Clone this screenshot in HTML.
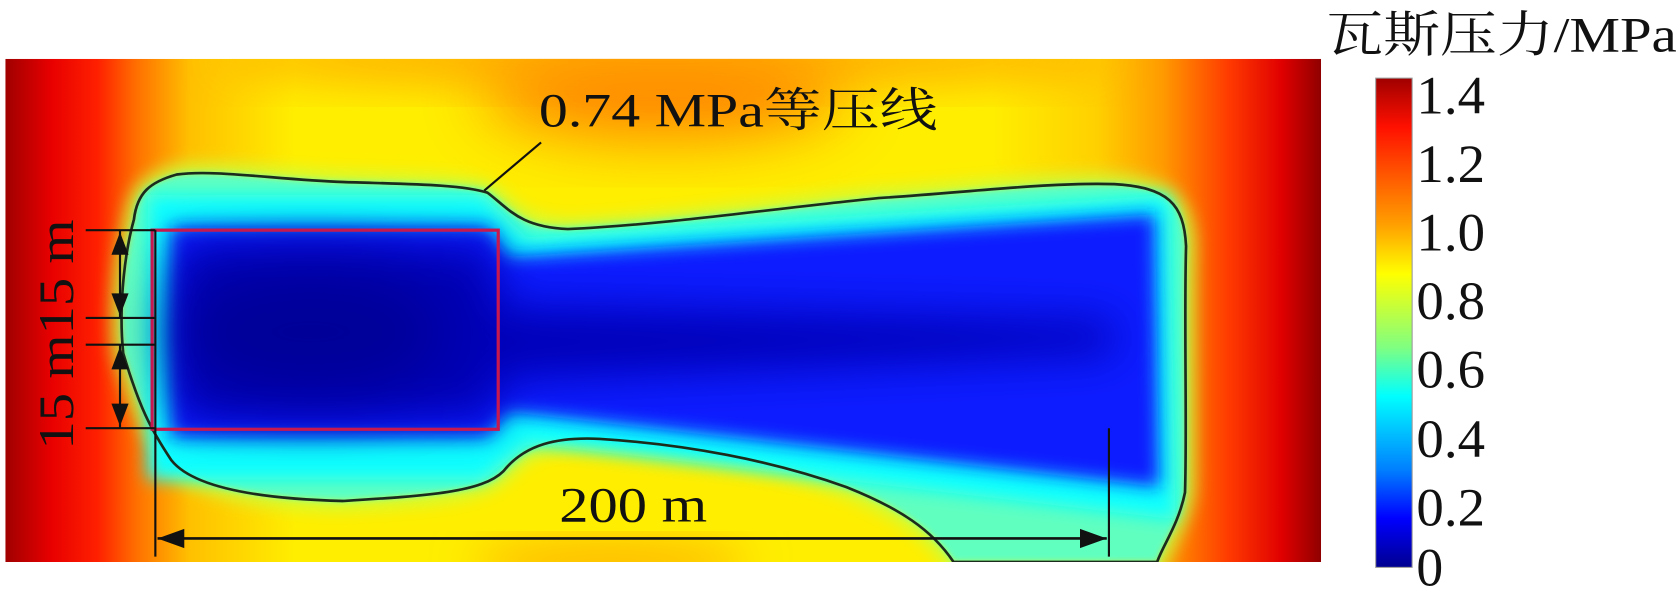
<!DOCTYPE html>
<html><head><meta charset="utf-8"><style>html,body{margin:0;padding:0;background:#fff;}svg{display:block}.t{font-family:"Liberation Serif","Times New Roman",serif}.c{font-family:"Liberation Serif","Noto Serif CJK SC",serif}</style></head>
<body>
<svg width="1680" height="592" viewBox="0 0 1568 553" preserveAspectRatio="none" xmlns="http://www.w3.org/2000/svg">
<defs>
<linearGradient id="bg" x1="0" x2="1" y1="0" y2="0">
<stop offset="0" stop-color="#a00000"/><stop offset="0.035" stop-color="#e80000"/>
<stop offset="0.07" stop-color="#ff2000"/><stop offset="0.1" stop-color="#ff7000"/>
<stop offset="0.14" stop-color="#ffc000"/><stop offset="0.22" stop-color="#ffee00"/>
<stop offset="0.75" stop-color="#ffee00"/><stop offset="0.83" stop-color="#ffd000"/>
<stop offset="0.88" stop-color="#ff9a00"/><stop offset="0.93" stop-color="#ff3a00"/>
<stop offset="0.97" stop-color="#e00000"/><stop offset="1" stop-color="#900000"/>
</linearGradient>
<linearGradient id="cb" x1="0" x2="0" y1="0" y2="1">
<stop offset="0" stop-color="#a00000"/><stop offset="0.1" stop-color="#ff1000"/>
<stop offset="0.3" stop-color="#ffa000"/><stop offset="0.4" stop-color="#ffff00"/>
<stop offset="0.55" stop-color="#80ff80"/><stop offset="0.65" stop-color="#00ffff"/>
<stop offset="0.8" stop-color="#0080ff"/><stop offset="0.9" stop-color="#0000ff"/>
<stop offset="1" stop-color="#000090"/>
</linearGradient>
<filter id="b3" x="-20%" y="-20%" width="140%" height="140%"><feGaussianBlur stdDeviation="3"/></filter>
<filter id="b8" x="-20%" y="-20%" width="140%" height="140%"><feGaussianBlur stdDeviation="8"/></filter>
<filter id="b20" x="-30%" y="-30%" width="160%" height="160%"><feGaussianBlur stdDeviation="20"/></filter>
<filter id="b30" x="-50%" y="-50%" width="200%" height="200%"><feGaussianBlur stdDeviation="30"/></filter>
<clipPath id="pc"><rect x="5" y="55" width="1228" height="470"/></clipPath>
<path id="ct" d="M125,205 C128,180 140,170 165,163 C200,158 260,168 320,170 C380,172 430,172 455,180 C475,195 485,212 530,214 C620,210 720,195 820,185 C900,180 980,170 1040,172 C1090,175 1105,190 1107,230 C1105,300 1108,400 1106,460 C1100,490 1085,510 1080,525 L890,525 C870,495 840,475 790,455 C720,430 640,415 560,410 C520,408 490,415 470,440 C450,460 400,463 320,468 C240,466 180,455 160,430 C140,400 130,380 115,330 C110,280 118,230 125,205 Z"/>
</defs>
<g clip-path="url(#pc)">
<rect x="5" y="55" width="1228" height="470" fill="url(#bg)"/>
<ellipse cx="620" cy="85" rx="170" ry="45" fill="#ff7000" opacity="0.85" filter="url(#b30)"/>
<ellipse cx="620" cy="55" rx="420" ry="28" fill="#ff9a00" opacity="0.7" filter="url(#b20)"/>
<ellipse cx="570" cy="525" rx="130" ry="18" fill="#ffb000" filter="url(#b20)"/>
<use href="#ct" fill="none" stroke="#c8ff40" stroke-width="16" filter="url(#b8)"/>
<use href="#ct" fill="#60ffc0" filter="url(#b3)"/>
<path d="M138,182 L450,182 L492,222 L1092,182 L1097,485 L492,414 L450,448 L138,448 Z" fill="#10ffff" filter="url(#b8)"/>
<path d="M160,212 L455,212 L475,240 L1078,200 L1082,455 L475,385 L455,408 L160,408 Z" fill="#0a1cff" filter="url(#b8)"/>
<path d="M165,228 L460,228 L470,285 L1040,300 L1040,330 L470,355 L460,392 L165,392 Z" fill="#0000b8" filter="url(#b20)"/>
<ellipse cx="290" cy="310" rx="130" ry="60" fill="#000098" filter="url(#b30)"/>
<use href="#ct" fill="none" stroke="#1c2c1c" stroke-width="2.5"/>
</g>
<rect x="142" y="215" width="323" height="186" fill="none" stroke="#c81850" stroke-width="3"/>
<g stroke="#111" stroke-width="2" fill="none">
<line x1="80" y1="215" x2="145" y2="215"/><line x1="80" y1="297" x2="145" y2="297"/>
<line x1="80" y1="322" x2="145" y2="322"/><line x1="80" y1="400" x2="145" y2="400"/>
<line x1="112" y1="215" x2="112" y2="297"/><line x1="112" y1="322" x2="112" y2="400"/>
<line x1="145" y1="215" x2="145" y2="520"/><line x1="1035" y1="400" x2="1035" y2="520"/>
<line x1="147" y1="503" x2="1033" y2="503" stroke-width="2.5"/>
<line x1="505" y1="133" x2="452" y2="178"/>
</g>
<g fill="#111">
<polygon points="112,217 104,238 120,238"/><polygon points="112,295 104,274 120,274"/>
<polygon points="112,324 104,345 120,345"/><polygon points="112,398 104,377 120,377"/>
<polygon points="147,503 172,494 172,512"/><polygon points="1033,503 1008,494 1008,512"/>
</g>
<g fill="#111">
<text class="c" x="503" y="118" font-size="44" textLength="372" lengthAdjust="spacingAndGlyphs">0.74 MPa等压线</text>
<text class="t" x="522" y="487" font-size="46" textLength="138" lengthAdjust="spacingAndGlyphs">200 m</text>
<text class="t" transform="translate(68,420) rotate(-90)" font-size="46" textLength="215" lengthAdjust="spacingAndGlyphs">15 m15 m</text>
<text class="c" x="1238" y="48" font-size="46" textLength="327" lengthAdjust="spacingAndGlyphs">瓦斯压力/MPa</text>
</g>
<rect x="1284" y="73" width="34" height="457" fill="url(#cb)" stroke="#999" stroke-width="1"/>
<g class="t" font-size="50" fill="#111">
<text x="1322" y="106" textLength="64" lengthAdjust="spacingAndGlyphs">1.4</text><text x="1322" y="170" textLength="64" lengthAdjust="spacingAndGlyphs">1.2</text>
<text x="1322" y="234" textLength="64" lengthAdjust="spacingAndGlyphs">1.0</text><text x="1322" y="298" textLength="64" lengthAdjust="spacingAndGlyphs">0.8</text>
<text x="1322" y="362" textLength="64" lengthAdjust="spacingAndGlyphs">0.6</text><text x="1322" y="427" textLength="64" lengthAdjust="spacingAndGlyphs">0.4</text>
<text x="1322" y="491" textLength="64" lengthAdjust="spacingAndGlyphs">0.2</text><text x="1322" y="547">0</text>
</g>
</svg>
</body></html>
